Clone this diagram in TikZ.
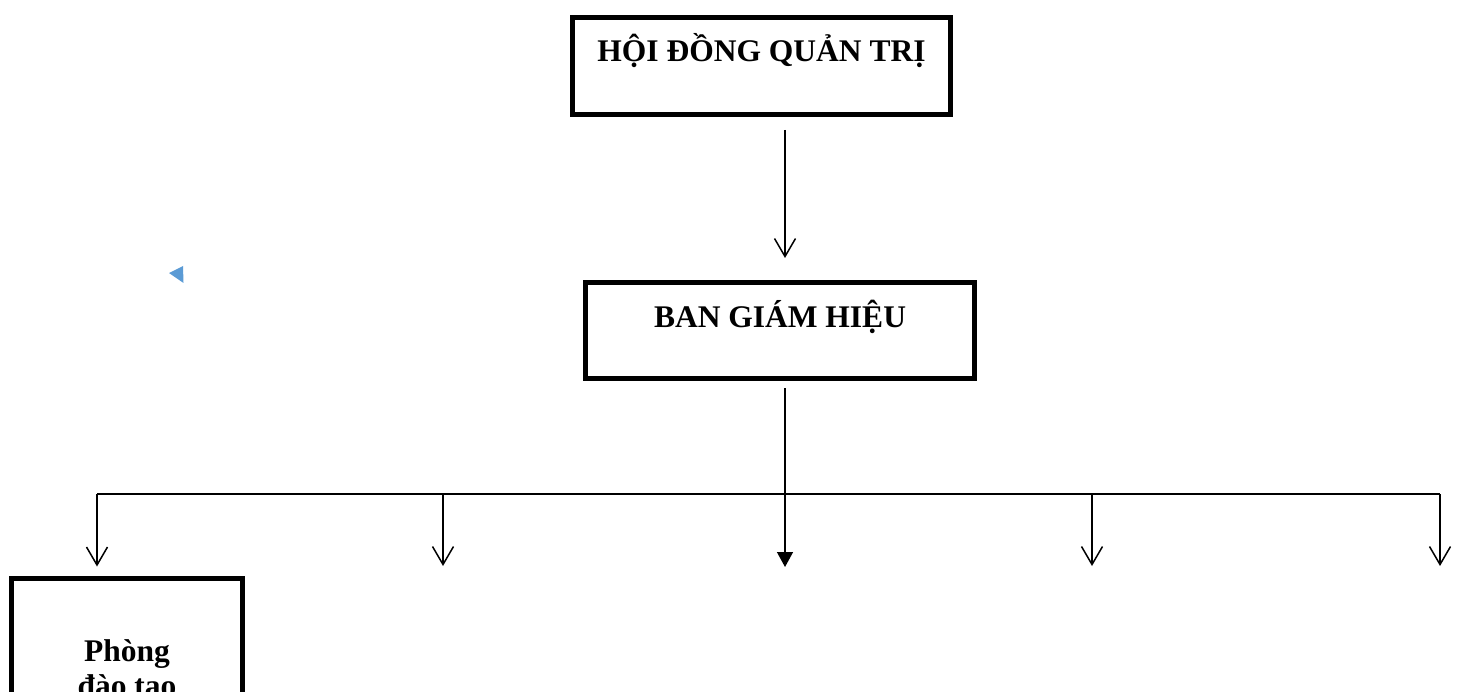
\documentclass[tikz,border=0pt]{standalone}
\usepackage{fontspec}
\setmainfont{Liberation Serif}
\usepackage{xcolor}
\usepackage{tikz}
\usetikzlibrary{arrows.meta}
\definecolor{markblue}{HTML}{5B9BD5}
\tikzset{edge/.style = {-{Straight Barb[length=18pt,width=21pt]}}}
\tikzset{solid edge/.style = {-{Triangle[length=15pt,width=16pt]}}}

\begin{document}
\begin{tikzpicture}[x=1pt,y=-1pt,line width=1.5pt,
    main box/.style={draw,line width=5pt,inner sep=0pt,font=\bfseries\fontsize{31.5}{35}\selectfont}]
                \useasboundingbox (0,0) rectangle (1458,692);
                \clip (0,0) rectangle (1458,692);

                \node[main box, minimum width=378pt, text height=44.5pt, text depth=52.5pt] (hdqt) at (761.5,66) {HỘI ĐỒNG QUẢN TRỊ};
                \node[main box, minimum width=389pt, text height=44.5pt, text depth=51.5pt] (bgh) at (780,330.5) {BAN GIÁM HIỆU};
                \node[main box, minimum width=231pt, inner ysep=62pt, align=center, anchor=north] (pdt) at (127,575.5) {Phòng\\đào tạo};

                \coordinate (spine) at (785,494);
                \coordinate (b1) at (97,494);
                \coordinate (b2) at (443,494);
                \coordinate (b4) at (1092,494);
                \coordinate (b5) at (1440,494);
                \coordinate (d2) at (443,566);
                \coordinate (d3) at (785,567);
                \coordinate (d4) at (1092,566);
                \coordinate (d5) at (1440,566);

                \draw[edge, shorten <=13pt, shorten >=22pt] (hdqt.south -| spine) -- (bgh.north -| spine);
                \draw[solid edge, shorten <=7pt] (bgh.south -| spine) -- (d3);
                \draw (b1) -- (b5);
                \draw[edge, shorten >=9pt] (b1) -- (pdt.north -| b1);
                \draw[edge] (b2) -- (d2);
                \draw[edge] (b4) -- (d4);
                \draw[edge] (b5) -- (d5);

                \fill[markblue] (169,273) -- (183,266) -- (183.5,283) -- cycle;
            \end{tikzpicture}
\end{document}
